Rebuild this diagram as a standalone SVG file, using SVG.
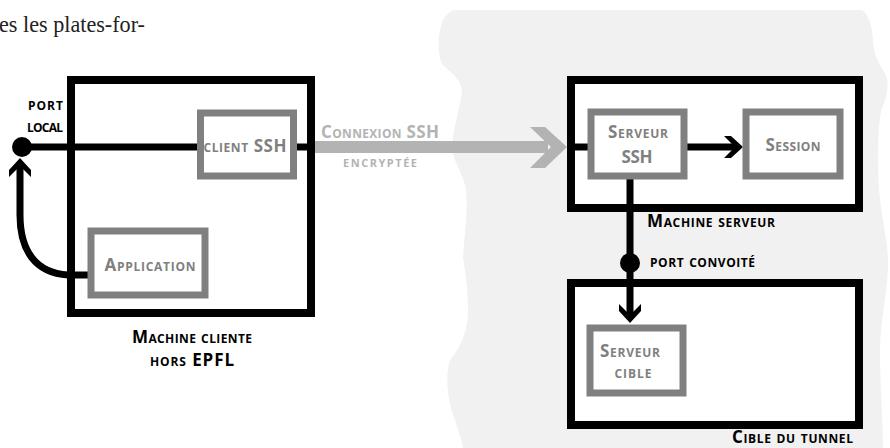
<svg xmlns="http://www.w3.org/2000/svg" xmlns:xlink="http://www.w3.org/1999/xlink" width="890" height="448" viewBox="0 0 890 448">
<style>
.big{fill:#fff;stroke:#000;stroke-width:8}
.box{fill:#fff;stroke:#808080;stroke-width:7}
.t{font-family:"Open Sans","Liberation Sans",sans-serif;font-weight:bold;font-variant:small-caps}
.lbl{fill:#000;font-size:17px}
.in{fill:#808080;font-size:17px;text-anchor:middle}
.wire{fill:none;stroke:#000;stroke-width:7}
</style>
<defs>
<path id="chev" d="M -19,-11 L -12,-11 L 0,0 L -12,11 L -19,11 L -8,0 Z" fill="#000"/>
</defs>
<path d="M 457 10 L 862 10 C 868 14 872 25 873 40 C 874 55 878 62 884 72 C 890 80 888 95 882 108 C 877 125 877 170 880 200 C 882 220 888 240 888 265 C 888 290 880 320 880 350 C 880 390 883 420 883 448 L 463 448 C 462 440 458 430 455 420 C 447 400 445 375 450 360 C 462 345 468 330 468 310 C 468 290 465 270 463 257 C 465 230 468 210 466 190 C 464 175 455 165 452 150 C 452 130 460 110 462 90 C 460 78 450 72 443 65 C 437 55 437 35 443 20 C 447 13 452 10 457 10 Z" fill="#f1f1f1"/>
<text x="-1" y="32" font-family="'Liberation Serif',serif" font-size="23" fill="#222" textLength="146" lengthAdjust="spacingAndGlyphs">es les plates-for-</text>
<g id="machine-cliente">
<rect class="big" x="71" y="80" width="240" height="233"/>
<text class="t lbl" x="192" y="343" text-anchor="middle" textLength="120">Machine cliente</text>
<text class="t lbl" x="192" y="366" text-anchor="middle" textLength="84">hors EPFL</text>
</g>
<g id="machine-serveur">
<rect class="big" x="571" y="80" width="288" height="128"/>
<text class="t lbl" x="647" y="227" textLength="128">Machine serveur</text>
</g>
<g id="cible-tunnel">
<rect class="big" x="571" y="283" width="288" height="142"/>
<text class="t lbl" x="732" y="443" font-size="16" textLength="121">Cible du tunnel</text>
</g>
<g id="connectors">
<rect x="315" y="141" width="233" height="12" fill="#b3b3b3"/>
<path d="M 530 127 L 545 127 L 567 147 L 545 168 L 530 168 L 551 147 Z" fill="#b3b3b3"/>
<line class="wire" x1="22" y1="147" x2="200" y2="147"/>
<line class="wire" x1="294" y1="147" x2="315" y2="147"/>
<path class="wire" d="M 90 275 L 68 275 C 35 273 20 250 20 215 L 20 166"/>
<use xlink:href="#chev" transform="translate(20,158) rotate(-90)"/>
<circle cx="22" cy="147" r="10" fill="#000"/>
<line class="wire" x1="567" y1="147" x2="591" y2="147"/>
<line class="wire" x1="686" y1="147" x2="736" y2="147"/>
<use xlink:href="#chev" transform="translate(743,147)"/>
<line class="wire" x1="630" y1="178" x2="630" y2="316"/>
<circle cx="630" cy="263" r="10" fill="#000"/>
<use xlink:href="#chev" transform="translate(630,323) rotate(90)"/>
</g>
<g id="port-local">
<text class="t lbl" x="63" y="110" text-anchor="end" font-size="16" textLength="35">port</text>
<text class="t lbl" x="63" y="132" text-anchor="end" font-size="16" textLength="36">local</text>
</g>
<g id="connexion-label">
<text class="t" x="380" y="138" text-anchor="middle" font-size="17" fill="#b3b3b3" textLength="118">Connexion SSH</text>
<text class="t" x="380" y="167" text-anchor="middle" font-size="16" fill="#b3b3b3" textLength="74">encryptée</text>
</g>
<g id="port-convoite">
<text class="t lbl" x="650" y="267" font-size="16" textLength="105">port convoité</text>
</g>
<g id="client-ssh">
<rect class="box" x="200.5" y="113" width="93" height="63"/>
<text class="t in" x="245" y="152" font-size="19" textLength="83">client SSH</text>
</g>
<g id="application">
<rect class="box" x="91" y="231" width="114" height="64"/>
<text class="t in" x="150" y="271" font-size="18" textLength="91">Application</text>
</g>
<g id="serveur-ssh">
<rect class="box" x="591" y="112" width="93" height="64"/>
<text class="t in" x="638" y="138" textLength="60">Serveur</text>
<text class="t in" x="637" y="163" font-size="16" textLength="31">SSH</text>
</g>
<g id="session">
<rect class="box" x="746" y="112" width="94" height="64"/>
<text class="t in" x="793" y="151" textLength="55">Session</text>
</g>
<g id="serveur-cible">
<rect class="box" x="590" y="328" width="93" height="65"/>
<text class="t in" x="630" y="357" textLength="60">Serveur</text>
<text class="t in" x="633" y="378" textLength="37">cible</text>
</g>
</svg>
